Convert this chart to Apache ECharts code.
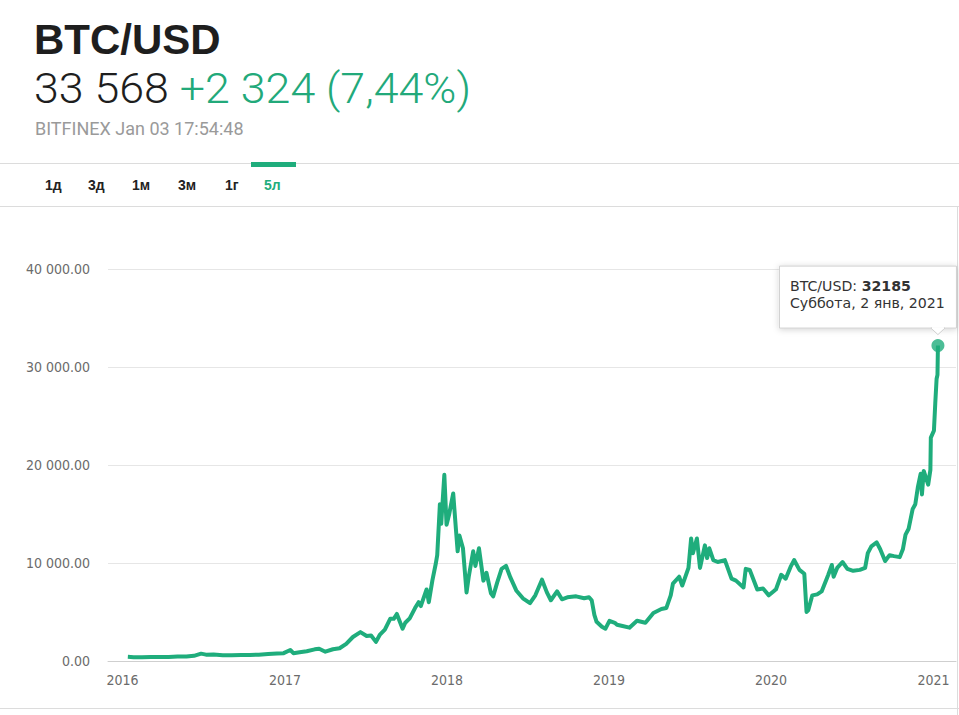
<!DOCTYPE html>
<html>
<head>
<meta charset="utf-8">
<script src="https://cdn.jsdelivr.net/npm/echarts@6/dist/echarts.min.js"></script>
<style>
html,body{margin:0;padding:0;background:#fff;}
#c{width:959px;height:715px;}
</style>
</head>
<body>
<div id="c"></div>
<script>
// ---- data ----
const dates = [
'2016-01-04','2016-01-17','2016-02-05','2016-02-25','2016-03-15','2016-04-05','2016-04-25','2016-05-15','2016-06-01','2016-06-17','2016-06-28','2016-07-15','2016-08-05','2016-08-25','2016-09-15','2016-10-05','2016-10-25','2016-11-15','2016-12-05','2016-12-20',
'2017-01-04','2017-01-11','2017-01-25','2017-02-10','2017-02-28','2017-03-10','2017-03-24','2017-04-10','2017-04-25','2017-05-10','2017-05-25','2017-06-11','2017-06-25','2017-07-05','2017-07-16','2017-07-25','2017-08-05','2017-08-17','2017-08-25','2017-09-01','2017-09-14','2017-09-20','2017-09-30','2017-10-12','2017-10-20','2017-10-25','2017-11-07','2017-11-12','2017-11-20','2017-11-28','2017-12-01','2017-12-07','2017-12-10','2017-12-17','2017-12-22','2017-12-28',
'2018-01-06','2018-01-12','2018-01-16','2018-01-20','2018-01-28','2018-02-05','2018-02-10','2018-02-20','2018-02-25','2018-03-05','2018-03-15','2018-03-22','2018-04-01','2018-04-06','2018-04-15','2018-04-25','2018-05-05','2018-05-15','2018-05-28','2018-06-12','2018-06-28','2018-07-10','2018-07-25','2018-08-05','2018-08-14','2018-08-28','2018-09-08','2018-09-20','2018-10-10','2018-10-28','2018-11-08','2018-11-14','2018-11-20','2018-11-25','2018-12-07','2018-12-15','2018-12-24',
'2019-01-05','2019-01-10','2019-01-20','2019-02-07','2019-02-24','2019-03-15','2019-04-02','2019-04-20','2019-05-01','2019-05-11','2019-05-16','2019-05-30','2019-06-06','2019-06-20','2019-06-26','2019-06-30','2019-07-09','2019-07-16','2019-07-27','2019-08-01','2019-08-06','2019-08-15','2019-08-25','2019-09-10','2019-09-25','2019-10-05','2019-10-22','2019-10-27','2019-11-05','2019-11-22','2019-12-05','2019-12-18','2019-12-31',
'2020-01-03','2020-01-15','2020-01-25','2020-02-05','2020-02-13','2020-02-25','2020-03-07','2020-03-12','2020-03-16','2020-03-25','2020-04-05','2020-04-15','2020-04-30','2020-05-08','2020-05-12','2020-05-20','2020-06-01','2020-06-12','2020-06-25','2020-07-10','2020-07-22','2020-07-28','2020-08-05','2020-08-17','2020-08-25','2020-09-05','2020-09-15','2020-09-25','2020-10-08','2020-10-15','2020-10-21','2020-10-28','2020-11-06','2020-11-12','2020-11-18','2020-11-24','2020-11-27','2020-12-01','2020-12-11','2020-12-16','2020-12-17','2020-12-22','2020-12-24','2020-12-27','2020-12-30','2021-01-01','2021-01-02'
];
const prices = [
430,390,380,420,415,420,450,455,530,750,650,665,580,575,610,612,650,710,760,800,
1120,800,900,1000,1190,1250,950,1200,1300,1750,2450,2950,2550,2600,1950,2700,3200,4300,4300,4800,3300,3900,4350,5400,6000,5600,7300,6000,8200,10000,10800,16000,14000,19000,13900,15000,
17100,13500,11200,12800,11500,7000,8600,11200,9700,11500,8200,9000,6900,6600,8000,9400,9700,8500,7200,6400,5900,6700,8300,7000,6200,7100,6300,6500,6600,6400,6500,6200,4700,4000,3500,3300,4100,
3900,3700,3600,3400,4100,3900,4900,5300,5400,6700,7900,8600,7700,9500,12500,11000,12500,9500,11800,10500,11500,10300,10100,10300,8400,8200,7500,9400,9300,7300,7400,6700,7200,
7300,8800,8400,9600,10300,9300,8900,5000,5200,6700,6800,7100,8800,9800,8600,9500,10100,9400,9200,9300,9500,11000,11700,12100,11400,10200,10800,10700,10600,11400,12900,13500,15500,16000,17800,19100,17000,19400,18000,19500,22800,23300,23500,26300,28800,29200,32185
];
const yTicks = [0, 10000, 20000, 30000, 40000];
const xTickYears = [2016, 2017, 2018, 2019, 2020, 2021];
const pair = 'BTC/USD';
const headerPrice = '33 568';
const headerChange = '+2 324 (7,44%)';
const headerSource = 'BITFINEX Jan 03 17:54:48';
const tabs = ['1д', '3д', '1м', '3м', '1г', '5л'];
const dayNames = ['Воскресенье','Понедельник','Вторник','Среда','Четверг','Пятница','Суббота'];
const monthNames = ['янв','фев','мар','апр','май','июн','июл','авг','сен','окт','ноя','дек'];

// ---- layout helpers ----
const GREEN = '#1fad7c';
const DAY = 86400000;
const ts = d => new Date(d + 'T00:00:00').getTime();
const xMin = new Date(2016, 0, 1).getTime() - 41.7 * DAY;
const xMax = new Date(2021, 0, 1).getTime() + 41.7 * DAY;
const seriesData = dates.map((d, i) => [ts(d), prices[i]]);
const lastDate = dates[dates.length - 1];
const lastVal = prices[prices.length - 1];
const ld = new Date(lastDate + 'T00:00:00');
const tipDate = dayNames[ld.getDay()] + ', ' + ld.getDate() + ' ' + monthNames[ld.getMonth()] + ', ' + ld.getFullYear();

const mctx = document.createElement('canvas').getContext('2d');
function measure(text, font) { mctx.font = font; return mctx.measureText(text).width; }
const clamp = (v, a, b) => Math.max(a, Math.min(b, v));

function fmtY(v) {
  const s = v.toFixed(2).split('.');
  return s[0].replace(/\B(?=(\d{3})+(?!\d))/g, ' ') + '.' + s[1];
}

// header number line: light font, widened to the reference's span
const numFont = '300 42px Roboto, "Liberation Sans", sans-serif';
const numScale = clamp(437 / measure(headerPrice + ' ' + headerChange, numFont), 0.9, 1.12);
const priceW = measure(headerPrice + ' ', numFont) * numScale;
const tabX = [45, 88, 132, 178, 225, 264];
const graphics = [
  {type:'text', x:34, y:39, style:{text:pair, font:'bold 42px "Liberation Sans", Arial, sans-serif', fill:'#1e1e1e', verticalAlign:'middle'}},
  {type:'text', x:34, y:88.5, scaleX:numScale, style:{text:headerPrice, font:numFont, fill:'#1e1e1e', verticalAlign:'middle'}},
  {type:'text', x:34 + priceW, y:88.5, scaleX:numScale, style:{text:headerChange, font:numFont, fill:'#22a97a', verticalAlign:'middle'}},
  {type:'text', x:35, y:128, style:{text:headerSource, font:'18px Roboto, "Liberation Sans", sans-serif', fill:'#9a9a9a', verticalAlign:'middle'}},
  {type:'line', shape:{x1:0, y1:163.5, x2:959, y2:163.5}, style:{stroke:'#dcdcdc', lineWidth:1}},
  {type:'line', shape:{x1:0, y1:206.5, x2:959, y2:206.5}, style:{stroke:'#dcdcdc', lineWidth:1}},
  {type:'line', shape:{x1:0, y1:708.5, x2:959, y2:708.5}, style:{stroke:'#dcdcdc', lineWidth:1}},
  {type:'line', shape:{x1:957.5, y1:206, x2:957.5, y2:715}, style:{stroke:'#dcdcdc', lineWidth:1}},
  {type:'rect', shape:{x:251, y:162, width:45, height:5}, style:{fill:GREEN}}
];
tabs.forEach((t, i) => {
  graphics.push({type:'text', x:tabX[i], y:185, style:{text:t, font:'bold 14px "Liberation Sans", Arial, sans-serif', fill: i === tabs.length - 1 ? GREEN : '#222', verticalAlign:'middle'}});
});

const chart = echarts.init(document.getElementById('c'), null, {renderer:'svg'});
chart.setOption({
  animation:false,
  backgroundColor:'#fff',
  grid:{left:108, right:3, top:269, bottom:54, containLabel:false},
  xAxis:{
    type:'value', min:xMin, max:xMax, scale:true,
    axisLine:{show:true, onZero:false, lineStyle:{color:'#cfcfcf', width:1}},
    axisTick:{show:false},
    splitLine:{show:false},
    axisLabel:{
      customValues: xTickYears.map(y => new Date(y, 0, 1).getTime()),
      formatter: v => String(new Date(v).getFullYear()),
      color:'#6b6b6b', fontFamily:'"DejaVu Sans Condensed", sans-serif', fontSize:14,
      margin:12, padding:[0, 8, 0, 0]
    }
  },
  yAxis:{
    type:'value', min:0, max:40000, interval:10000,
    axisLine:{show:false}, axisTick:{show:false},
    splitLine:{lineStyle:{color:'#e6e6e6', width:1}},
    axisLabel:{formatter: fmtY, color:'#6b6b6b', fontFamily:'"DejaVu Sans Condensed", sans-serif', fontSize:14, margin:18}
  },
  series:[
    {type:'line', data:seriesData, showSymbol:false, symbol:'none',
     lineStyle:{color:GREEN, width:4, join:'round'}, z:2},
    {type:'scatter', data:[[ts(lastDate), lastVal]], symbol:'circle', symbolSize:13,
     itemStyle:{color:GREEN}, z:5}
  ]
});

// tooltip-like box anchored at the last point
const p = chart.convertToPixel({xAxisIndex:0, yAxisIndex:0}, [ts(lastDate), lastVal]);
const tipFont = '14px "DejaVu Sans", sans-serif';
const tipBold = 'bold 14px "DejaVu Sans", sans-serif';
const tipScale = clamp(155 / measure(tipDate, tipFont), 0.85, 1.1);
const boxW = 177, boxH = 62;
const bx = p[0] - 159, by = p[1] - 18 - boxH;
const labW = measure(pair + ': ', tipFont) * tipScale;
chart.setOption({graphic: graphics.concat([
  {type:'rect', z:100, shape:{x:bx + 0.5, y:by + 0.5, width:boxW, height:boxH},
   style:{fill:'#fff', stroke:'#cfcfcf', lineWidth:1, shadowColor:'rgba(0,0,0,0.18)', shadowBlur:6, shadowOffsetY:1}},
  {type:'polygon', z:101, shape:{points:[[p[0]-7, by + boxH + 0.5], [p[0]+7, by + boxH + 0.5], [p[0], by + boxH + 7]]},
   style:{fill:'#fff', stroke:'#cfcfcf', lineWidth:1}},
  {type:'line', z:102, shape:{x1:p[0]-6, y1:by + boxH + 0.5, x2:p[0]+6, y2:by + boxH + 0.5}, style:{stroke:'#fff', lineWidth:2}},
  {type:'text', z:103, x:bx + 11, y:by + 20, scaleX:tipScale, style:{text:pair + ':', font:tipFont, fill:'#333', verticalAlign:'middle'}},
  {type:'text', z:103, x:bx + 11 + labW, y:by + 20, scaleX:tipScale, style:{text:String(lastVal), font:tipBold, fill:'#333', verticalAlign:'middle'}},
  {type:'text', z:103, x:bx + 11, y:by + 37.5, scaleX:tipScale, style:{text:tipDate, font:tipFont, fill:'#333', verticalAlign:'middle'}}
])});
</script>
</body>
</html>
